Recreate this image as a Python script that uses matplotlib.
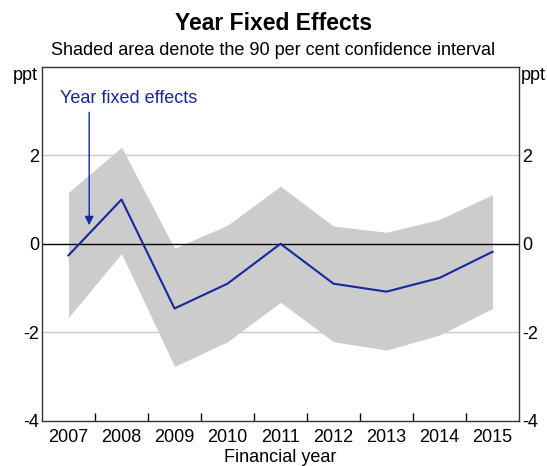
import numpy as np
import matplotlib
matplotlib.use('Agg')
import matplotlib.pyplot as plt

plt.rcParams['font.family'] = ['Liberation Sans', 'DejaVu Sans']

years = ['2007', '2008', '2009', '2010', '2011', '2012', '2013', '2014', '2015']
effect = [-0.26, 1.0, -1.46, -0.9, 0.0, -0.9, -1.08, -0.77, -0.18]
upper = [1.16, 2.18, -0.1, 0.42, 1.3, 0.4, 0.26, 0.55, 1.11]
lower = [-1.66, -0.22, -2.77, -2.21, -1.32, -2.21, -2.4, -2.06, -1.46]
yticks = [-4, -2, 0, 2]

blue = '#1428a0'
x = np.arange(len(years))

fig = plt.figure(figsize=(5.47, 4.66), dpi=100)
ax = fig.add_axes([0.0768, 0.0966, 0.872, 0.7604])

ax.fill_between(x, lower, upper, color='#cccccc', linewidth=0, zorder=1)
for g in [2, -2]:
    ax.axhline(g, color='#c8c8c8', linewidth=1, zorder=0)
ax.axhline(0, color='black', linewidth=1, zorder=2)
ax.plot(x, effect, color=blue, linewidth=1.5, zorder=3)

ax.set_xlim(-0.5, len(years) - 0.5)
ax.set_ylim(-4, 4)

# category labels centred, tick marks between categories
ax.set_xticks(x)
ax.set_xticklabels(years, fontsize=13)
ax.set_xticks(np.arange(0.5, len(years) - 1), minor=True)
ax.tick_params(axis='x', which='major', length=0, pad=6)
ax.tick_params(axis='x', which='minor', direction='in', length=6, width=1)

ax.set_yticks(yticks)
ax.set_yticklabels([str(v) for v in yticks], fontsize=13)
ax.tick_params(axis='y', length=0, pad=2, labelright=True, right=False)

for s in ax.spines.values():
    s.set_linewidth(1)
    s.set_color('#333333')

ax.set_xlabel('Financial year', fontsize=13, labelpad=2)

fig.text(0.069, 0.838, 'ppt', ha='right', va='center', fontsize=13)
fig.text(0.953, 0.838, 'ppt', ha='left', va='center', fontsize=13)

ax.text(-0.16, 3.27, 'Year fixed effects', fontsize=13, color=blue,
        ha='left', va='center', zorder=4)
ax.annotate('', xy=(0.39, 0.42), xytext=(0.39, 2.97),
            arrowprops=dict(arrowstyle='-|>', color=blue, lw=1,
                            mutation_scale=13, shrinkA=0, shrinkB=0),
            zorder=4)

fig.text(0.5, 0.95, 'Year Fixed Effects', ha='center', va='center',
         fontsize=16.5, fontweight='bold')
fig.text(0.5, 0.891, 'Shaded area denote the 90 per cent confidence interval',
         ha='center', va='center', fontsize=13)

fig.savefig('out.png', dpi=100)
